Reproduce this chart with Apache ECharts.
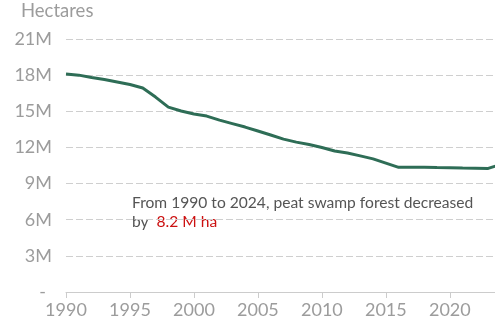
<!DOCTYPE html>
<html>
<head>
<meta charset="utf-8">
<script src="https://cdn.jsdelivr.net/npm/echarts@6/dist/echarts.min.js"></script>
<style>
  html, body { margin: 0; padding: 0; background: #ffffff; }
  #chart { width: 495px; height: 323px; }
</style>
</head>
<body>
<div id="chart"></div>
<script>
// Peat swamp forest area, millions of hectares, 1990–2024
const years = [1990, 1991, 1992, 1993, 1994, 1995, 1996, 1997, 1998, 1999,
               2000, 2001, 2002, 2003, 2004, 2005, 2006, 2007, 2008, 2009,
               2010, 2011, 2012, 2013, 2014, 2015, 2016, 2017, 2018, 2019,
               2020, 2021, 2022, 2023, 2024];
const forestArea = [18.1, 18.0, 17.8, 17.64, 17.43, 17.22, 16.93, 16.18, 15.35, 15.02,
                    14.77, 14.6, 14.27, 13.98, 13.69, 13.36, 13.03, 12.69, 12.44, 12.24,
                    11.99, 11.7, 11.53, 11.3, 11.05, 10.7, 10.35, 10.36, 10.35, 10.33,
                    10.32, 10.29, 10.28, 10.26, 10.6];
const yTicks = [0, 3, 6, 9, 12, 15, 18, 21];
const xTicks = [1990, 1995, 2000, 2005, 2010, 2015, 2020];

const unitLabel = 'Hectares';
const noteLine1 = 'From 1990 to 2024, peat swamp forest decreased';
const noteLead = 'by ';
const noteValue = '8.2 M ha';

const FONT = 'Lato, "Noto Sans", sans-serif';
const GREY = '#9c9c9c';

const chart = echarts.init(document.getElementById('chart'), null, { renderer: 'canvas' });

chart.setOption({
  animation: false,
  backgroundColor: '#ffffff',
  grid: { left: 66, right: -6, top: 39, bottom: 31, containLabel: false, outerBoundsMode: 'none' },
  xAxis: {
    type: 'value',
    min: years[0],
    max: years[years.length - 1],
    interval: 5,
    axisLine: { show: true, lineStyle: { color: '#cccccc', width: 1 } },
    axisTick: { show: true, length: 6, lineStyle: { color: '#cccccc' } },
    splitLine: { show: false },
    axisLabel: {
      color: GREY, fontFamily: FONT, fontSize: 18, margin: 9,
      showMaxLabel: false,
      formatter: v => xTicks.includes(v) ? String(v) : ''
    }
  },
  yAxis: {
    type: 'value',
    min: yTicks[0],
    max: yTicks[yTicks.length - 1],
    interval: 3,
    axisLine: { show: false },
    axisTick: { show: false },
    splitLine: { show: true, lineStyle: { color: '#cfcfcf', width: 1, type: [7, 3] } },
    axisLabel: {
      color: GREY, fontFamily: FONT, fontSize: 18, margin: 14,
      formatter: v => v === 0 ? '{z|-}' : v + 'M',
      rich: { z: { color: GREY, fontFamily: FONT, fontSize: 18, padding: [0, 6, 0, 0] } }
    }
  },
  series: [{
    type: 'line',
    data: years.map((y, i) => [y, forestArea[i]]),
    symbol: 'none',
    smooth: false,
    lineStyle: { color: '#2e6d56', width: 3 },
    clip: true
  }],
  graphic: [
    {
      type: 'text', left: 21, top: 2,
      style: { text: unitLabel, fill: GREY, font: '18.5px ' + FONT }
    },
    {
      type: 'text', left: 132, top: 193,
      style: {
        text: noteLine1 + '\n{a|' + noteLead + '} {r|' + noteValue + '}',
        fill: '#555555', font: '15.6px ' + FONT, lineHeight: 19,
        rich: {
          a: { fill: '#555555', font: '15.6px ' + FONT, lineHeight: 19 },
          r: { fill: '#cc1111', font: '15.6px ' + FONT, lineHeight: 19 }
        }
      }
    }
  ]
});
</script>
</body>
</html>
